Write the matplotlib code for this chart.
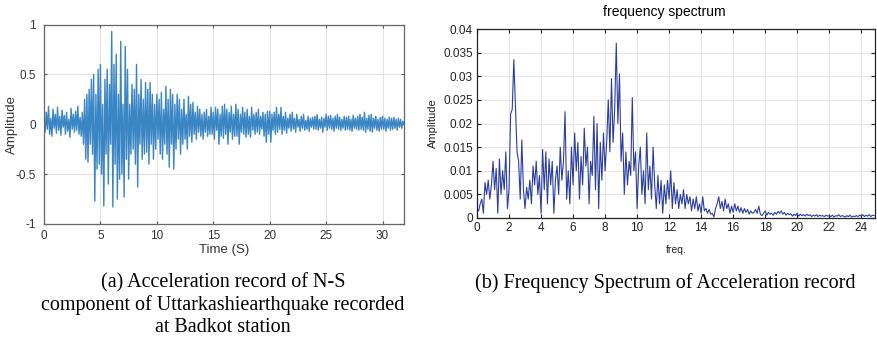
import numpy as np
import matplotlib
matplotlib.use('Agg')
import matplotlib.pyplot as plt

plt.rcParams['font.family'] = ['Liberation Sans', 'DejaVu Sans']

# (a) acceleration record, one row per second, 0.1 s step
accel = [
    0.05, -0.08, 0.12, -0.05, 0.18, -0.1, 0.06, -0.12, 0.15, -0.04,
    0.1, -0.09, 0.17, -0.06, 0.08, -0.11, 0.14, -0.03, 0.09, -0.1,
    0.12, -0.07, 0.05, -0.13, 0.16, -0.05, 0.1, -0.08, 0.13, -0.06,
    0.18, -0.1, 0.07, -0.12, 0.12, -0.2, 0.25, -0.35, 0.3, -0.38,
    0.35, -0.2, 0.45, -0.3, 0.5, -0.77, 0.3, -0.45, 0.55, -0.4,
    0.6, -0.5, 0.2, -0.82, 0.45, -0.3, 0.55, -0.6, 0.4, -0.2,
    0.93, -0.83, 0.6, -0.4, 0.7, -0.75, 0.3, -0.55, 0.83, -0.5,
    0.2, -0.73, 0.78, -0.35, 0.55, -0.55, 0.2, -0.3, 0.4, -0.25,
    0.35, -0.4, 0.6, -0.63, 0.3, -0.2, 0.45, -0.35, 0.25, -0.3,
    0.42, -0.28, 0.35, -0.4, 0.42, -0.2, 0.3, -0.35, 0.2, -0.25,
    0.3, -0.15, 0.25, -0.3, 0.32, -0.35, 0.15, -0.2, 0.38, -0.3,
    0.25, -0.43, 0.35, -0.2, 0.3, -0.45, 0.2, -0.25, 0.3, -0.15,
    0.25, -0.3, 0.15, -0.2, 0.25, -0.15, 0.1, -0.25, 0.28, -0.12,
    0.2, -0.18, 0.22, -0.1, 0.12, -0.15, 0.18, -0.08, 0.15, -0.12,
    0.1, -0.15, 0.12, -0.08, 0.15, -0.12, 0.08, -0.1, 0.17, -0.1,
    0.12, -0.15, 0.17, -0.06, 0.15, -0.2, 0.1, -0.12, 0.18, -0.14,
    0.2, -0.1, 0.15, -0.2, 0.12, -0.08, 0.18, -0.15, 0.1, -0.12,
    0.2, -0.12, 0.15, -0.2, 0.1, -0.08, 0.17, -0.1, 0.12, -0.13,
    0.15, -0.1, 0.08, -0.13, 0.17, -0.06, 0.1, -0.1, 0.12, -0.08,
    0.15, -0.1, 0.08, -0.05, 0.12, -0.12, 0.1, -0.18, 0.13, -0.1,
    0.13, -0.18, 0.1, -0.06, 0.12, -0.1, 0.17, -0.08, 0.1, -0.05,
    0.17, -0.1, 0.08, -0.06, 0.12, -0.09, 0.06, -0.04, 0.1, -0.07,
    0.12, -0.05, 0.06, -0.08, 0.1, -0.03, 0.05, -0.07, 0.08, -0.04,
    0.1, -0.06, 0.04, -0.05, 0.08, -0.07, 0.06, -0.03, 0.07, -0.05,
    0.08, -0.05, 0.1, -0.06, 0.05, -0.04, 0.07, -0.08, 0.06, -0.03,
    0.1, -0.06, 0.08, -0.04, 0.09, -0.05, 0.06, -0.07, 0.08, -0.04,
    0.1, -0.05, 0.07, -0.06, 0.05, -0.04, 0.08, -0.06, 0.07, -0.05,
    0.08, -0.06, 0.05, -0.07, 0.09, -0.04, 0.06, -0.05, 0.08, -0.06,
    0.1, -0.05, 0.07, -0.06, 0.12, -0.08, 0.06, -0.05, 0.09, -0.07,
    0.1, -0.08, 0.06, -0.04, 0.08, -0.06, 0.05, -0.07, 0.07, -0.05,
    0.08, -0.05, 0.06, -0.07, 0.05, -0.04, 0.07, -0.06, 0.06, -0.05,
    0.07, -0.04, 0.05, -0.06, 0.06, -0.03, 0.05, -0.04, 0.03, 0.0,
]
time = np.arange(len(accel)) * 0.1

# (b) spectrum amplitude, 0.1 Hz step
spec = [
    0.002, 0.0015, 0.003, 0.004, 0.001, 0.0075, 0.005, 0.008, 0.004, 0.007,
    0.012, 0.006, 0.0105, 0.001, 0.0125, 0.005, 0.01, 0.006, 0.014, 0.002,
    0.006, 0.022, 0.023, 0.0335, 0.024, 0.014, 0.012, 0.004, 0.0165, 0.006,
    0.002, 0.0065, 0.004, 0.008, 0.003, 0.011, 0.007, 0.012, 0.005, 0.009,
    0.001, 0.0145, 0.006, 0.014, 0.003, 0.0125, 0.007, 0.012, 0.001, 0.008,
    0.011, 0.005, 0.015, 0.008, 0.012, 0.0225, 0.004, 0.01, 0.003, 0.015,
    0.007, 0.018, 0.01, 0.016, 0.004, 0.013, 0.007, 0.019, 0.011, 0.015,
    0.003, 0.012, 0.009, 0.0215, 0.006, 0.02, 0.002, 0.016, 0.008, 0.018,
    0.01, 0.016, 0.025, 0.014, 0.0295, 0.016, 0.023, 0.037, 0.02, 0.0305,
    0.012, 0.018, 0.005, 0.014, 0.007, 0.012, 0.009, 0.0255, 0.01, 0.014,
    0.002, 0.011, 0.015, 0.005, 0.01, 0.003, 0.018, 0.006, 0.011, 0.004,
    0.015, 0.007, 0.002, 0.009, 0.003, 0.008, 0.001, 0.007, 0.003, 0.008,
    0.004, 0.01, 0.002, 0.0075, 0.003, 0.006, 0.002, 0.005, 0.003, 0.006,
    0.002, 0.005, 0.003, 0.0045, 0.0015, 0.004, 0.002, 0.0045, 0.0015, 0.003,
    0.001, 0.0045, 0.0015, 0.002, 0.001, 0.0018, 0.0008, 0.001, 0.0002, 0.002,
    0.003, 0.0045, 0.002, 0.0035, 0.0015, 0.004, 0.002, 0.003, 0.001, 0.0025,
    0.0012, 0.003, 0.0015, 0.0025, 0.0012, 0.0022, 0.001, 0.002, 0.0012, 0.0018,
    0.0008, 0.0015, 0.001, 0.0012, 0.0018, 0.001, 0.0025, 0.0008, 0.0005, 0.001,
    0.0015, 0.0006, 0.0012, 0.0008, 0.001, 0.0006, 0.0012, 0.0008, 0.0014, 0.001,
    0.0015, 0.0008, 0.0012, 0.0006, 0.001, 0.0007, 0.0009, 0.0004, 0.0008, 0.0005,
    0.001, 0.0004, 0.0008, 0.0005, 0.0007, 0.0004, 0.0008, 0.0005, 0.0007, 0.0003,
    0.0006, 0.0004, 0.0007, 0.0003, 0.0006, 0.0004, 0.0005, 0.0003, 0.0006, 0.0004,
    0.0005, 0.0003, 0.0006, 0.0002, 0.0005, 0.0004, 0.0007, 0.0003, 0.0005, 0.0004,
    0.0002, 0.0005, 0.0003, 0.0006, 0.0002, 0.0004, 0.0003, 0.0005, 0.0003, 0.0006,
    0.0004, 0.0007, 0.0003, 0.0006, 0.0004, 0.0007, 0.0003, 0.0006, 0.0005,
]
freq = np.arange(len(spec)) * 0.1

fig = plt.figure(figsize=(8.77, 3.42), dpi=100)

# left panel
ax1 = fig.add_axes([44/877, 1-224/342, 360/877, 199.5/342])
ax1.plot(time, accel, color='#3a86c4', lw=1.0)
ax1.set_xlim(0, 31.9)
ax1.set_ylim(-1, 1)
ax1.set_xticks([0, 5, 10, 15, 20, 25, 30])
ax1.set_yticks([-1, -0.5, 0, 0.5, 1])
ax1.set_yticklabels(['-1', '-0.5', '0', '0.5', '1'])
ax1.grid(True, color='#e2e2e2', lw=0.8)
ax1.set_axisbelow(True)
ax1.tick_params(direction='in', length=2.5, labelsize=8.5, colors='#555555',
                labelcolor='#333333', top=True, right=True, pad=4)
ax1.tick_params(axis='y', pad=6)
for s in ax1.spines.values():
    s.set_color('#666666')
    s.set_linewidth(0.9)
ax1.set_xlabel('Time (S)', fontsize=9.5, color='#333333', labelpad=2)
ax1.set_ylabel('Amplitude', fontsize=9.5, color='#333333')
ax1.yaxis.set_label_coords(-0.072, 0.5)

# right panel
ax2 = fig.add_axes([477/877, 1-218/342, 398/877, 189/342])
ax2.plot(freq, spec, color='#2b3e9f', lw=0.8)
ax2.set_xlim(0, 24.86)
ax2.set_ylim(0, 0.04)
ax2.set_xticks(np.arange(0, 25, 2))
ax2.set_yticks([0, 0.005, 0.01, 0.015, 0.02, 0.025, 0.03, 0.035, 0.04])
ax2.set_yticklabels(['0', '0.005', '0.01', '0.015', '0.02', '0.025', '0.03', '0.035', '0.04'])
ax2.grid(True, color='#e6e6e6', lw=0.8)
ax2.set_axisbelow(True)
ax2.tick_params(direction='in', length=3, labelsize=8.5, colors='#222222',
                top=True, right=True, pad=3)
for s in ax2.spines.values():
    s.set_color('#222222')
    s.set_linewidth(0.9)
ax2.set_ylabel('Amplitude', fontsize=8, color='#222222', labelpad=4)
ax2.set_xlabel('freq.', fontsize=7.5, color='#222222', labelpad=8)
fig.text(664/877, 1-12/342, 'frequency spectrum', fontsize=10, ha='center', va='center')

# captions
cap = dict(family=['Liberation Serif', 'DejaVu Serif'], fontsize=14.5, ha='center', va='center')
fig.text(223/877, 1-283/342, '(a) Acceleration record of N-S', **cap)
fig.text(223/877, 1-305/342, 'component of Uttarkashiearthquake recorded', **cap)
fig.text(223/877, 1-327/342, 'at Badkot station', **cap)
fig.text(665/877, 1-283/342, '(b) Frequency Spectrum of Acceleration record', **cap)

fig.savefig('out.png', dpi=100)
